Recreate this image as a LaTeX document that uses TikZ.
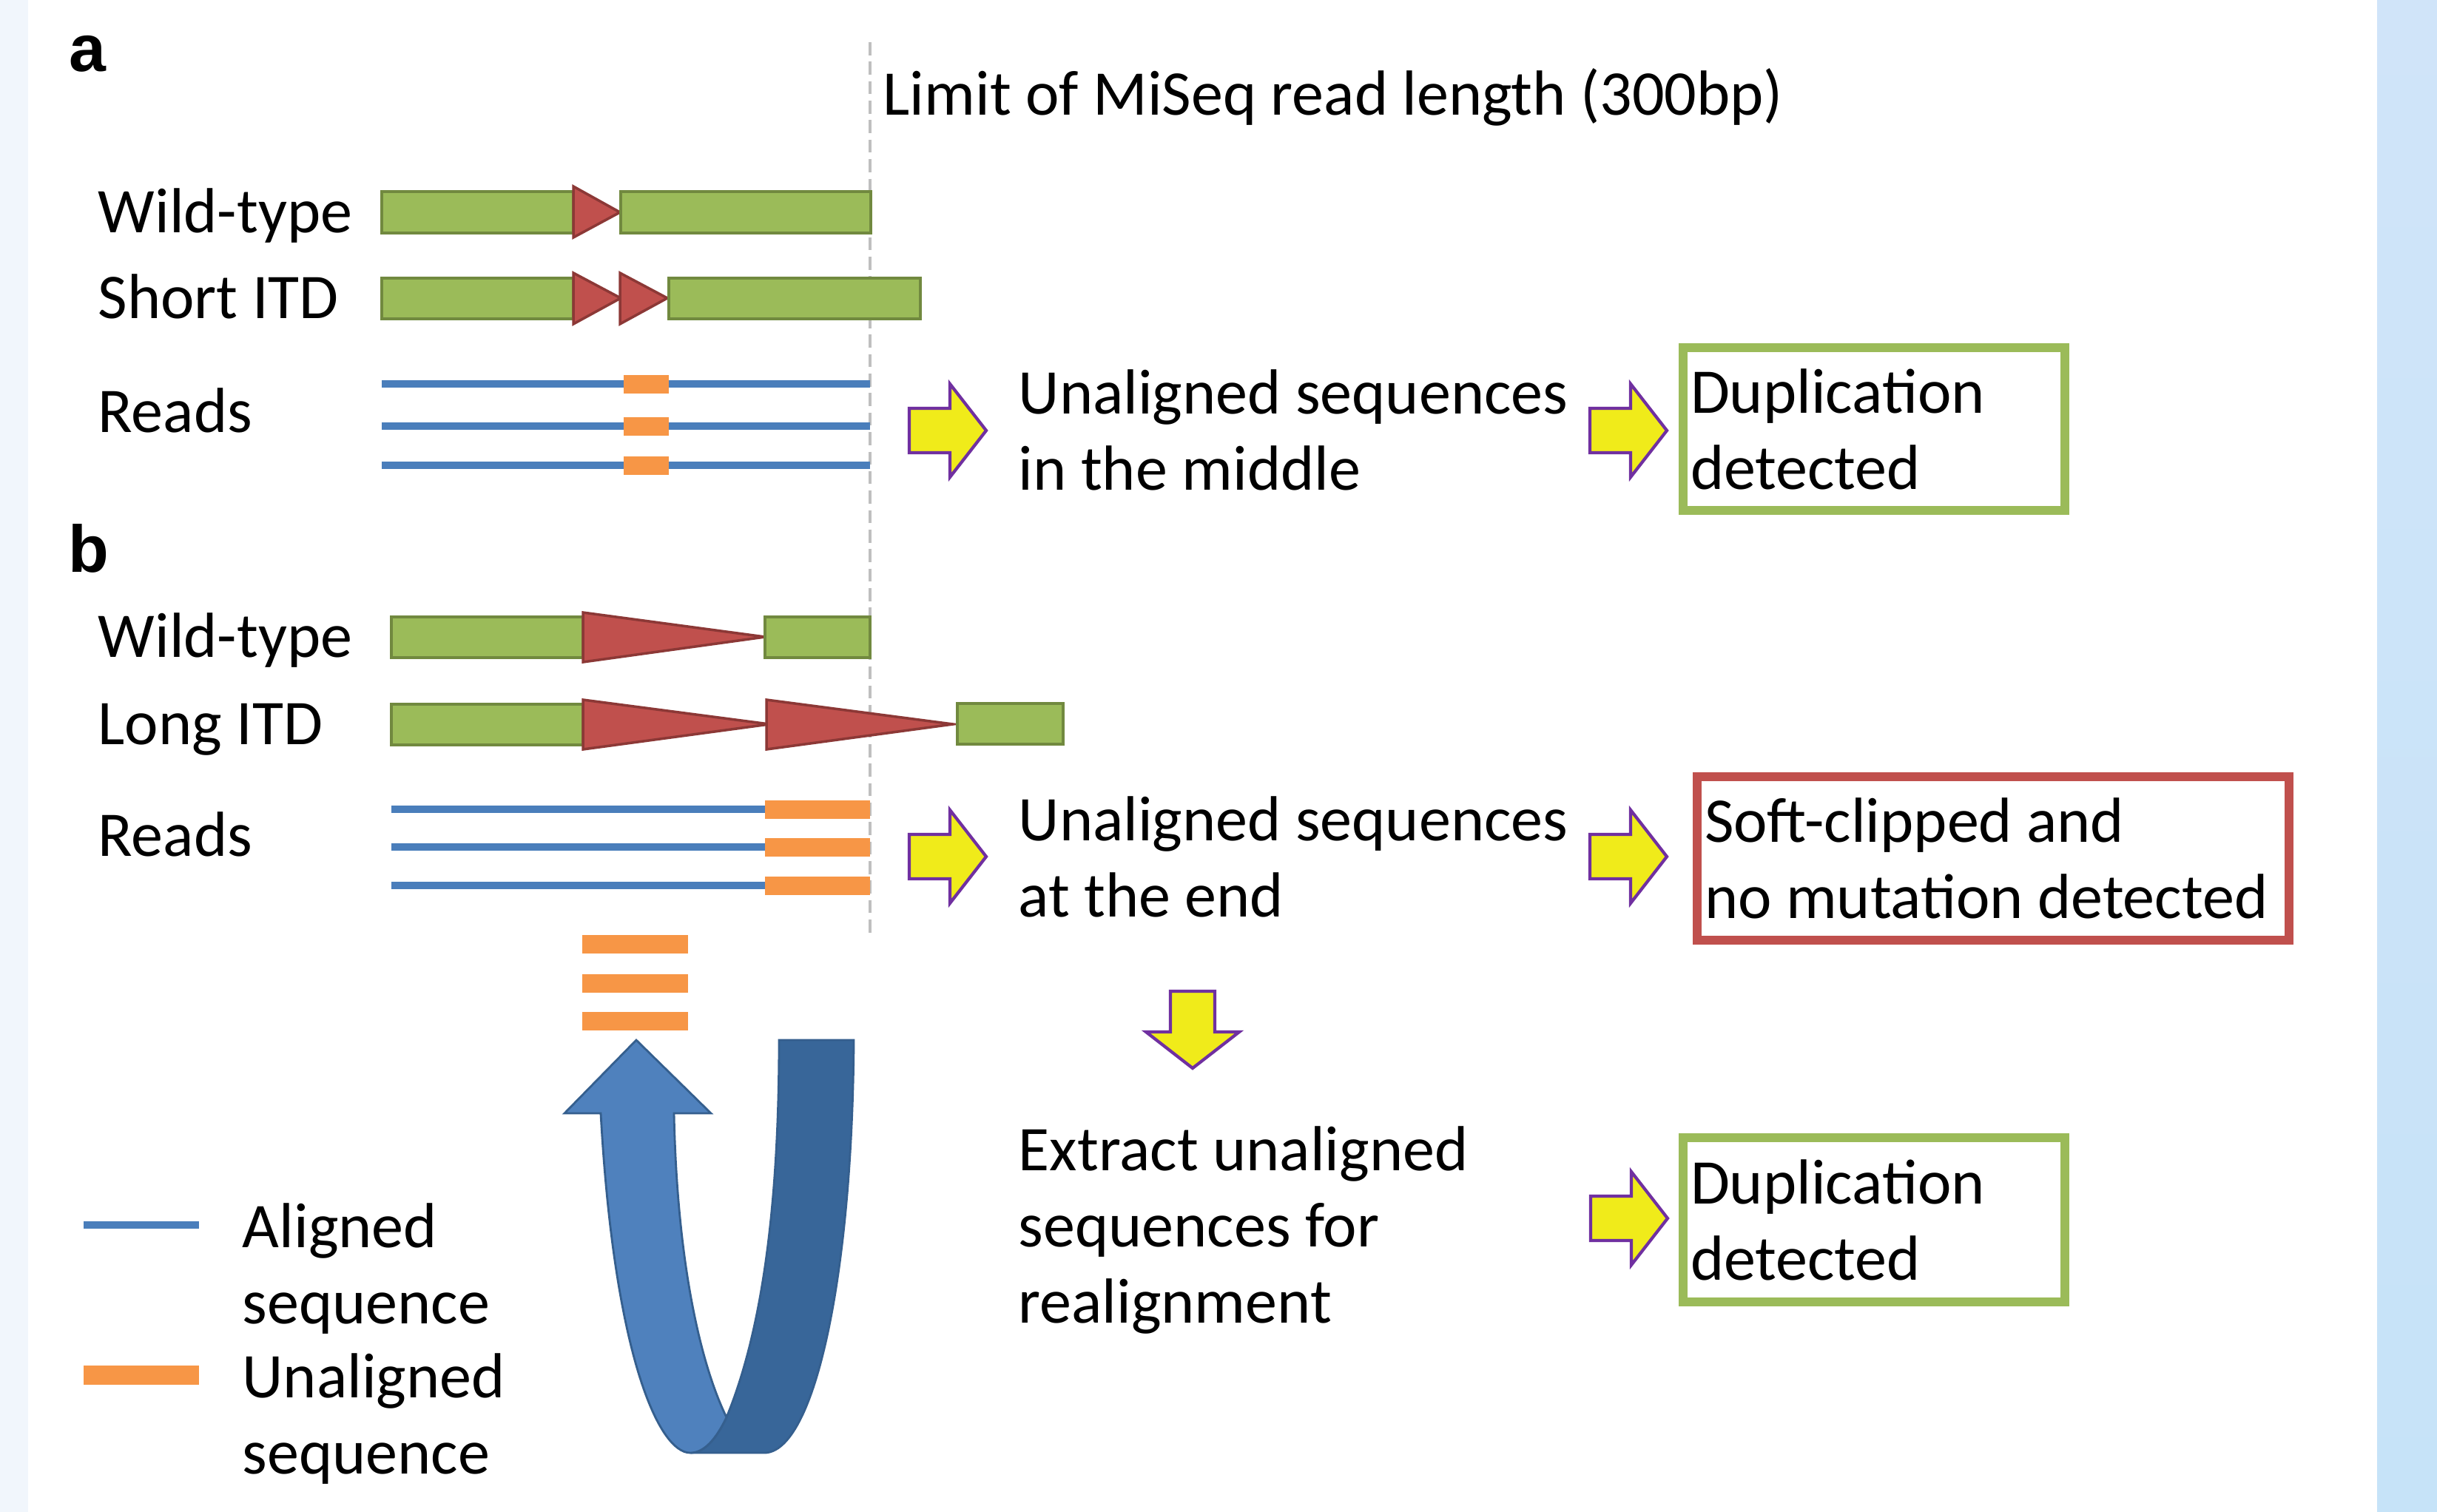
\documentclass[tikz,border=0pt]{standalone}
\usepackage{fontspec}
\setmainfont{Carlito}
\newfontfamily\panelfont{Liberation Sans}
\usetikzlibrary{positioning}
\definecolor{barG}{HTML}{9BBB59}
\definecolor{barGd}{HTML}{71893F}
\definecolor{itdR}{HTML}{C0504D}
\definecolor{itdRd}{HTML}{8C3836}
\definecolor{readB}{HTML}{4A7EBB}
\definecolor{unalO}{HTML}{F79646}
\definecolor{arrY}{HTML}{F0EB1A}
\definecolor{arrP}{HTML}{7030A0}
\definecolor{uturnL}{HTML}{4F81BD}
\definecolor{uturnD}{HTML}{386699}
\definecolor{uturnE}{HTML}{355F8E}
\definecolor{limG}{HTML}{BFBFBF}
\definecolor{bandL}{HTML}{F1F6FC}
\definecolor{bandT}{HTML}{D0E4F9}
\definecolor{bandB}{HTML}{C6E3F8}
\tikzset{
  panel/.style={font=\panelfont\fontsize{25.5}{30}\selectfont\bfseries,inner sep=0pt},
  lbl/.style={anchor=base west,inner sep=0pt},
  txt/.style={anchor=base west,inner sep=0pt,align=left},
  resbox/.style={line width=3.4pt,inner xsep=0.1cm,inner ysep=0pt,align=flush left},
  seg/.style={fill=barG,draw=barGd,line width=1pt},
  dup/.style={fill=itdR,draw=itdRd,line width=1pt},
  read/.style={readB,line width=2.6pt},
  unal/.style={fill=unalO},
  limline/.style={limG,line width=1.1pt,dash pattern=on 5pt off 2.5pt},
  yarr/.style={fill=arrY,draw=arrP,line width=1.2pt},
  yblk/.pic={\draw[yarr] (0,0.30) -- (0.55,0.30) -- (0.55,0.63) -- (1.04,0) -- (0.55,-0.63) -- (0.55,-0.30) -- (0,-0.30) -- cycle;}
}
\begin{document}
\begin{tikzpicture}[x=1cm,y=1cm,line join=miter,font=\fontsize{24.5}{29.3}\selectfont]
\useasboundingbox (0,0) rectangle (32.94,-20.44);
\fill[white] (0,0) rectangle (32.94,-20.44);
\fill[bandL] (0,0) rectangle (0.38,-20.44);
\shade[top color=bandT,bottom color=bandB] (32.13,0) rectangle (32.94,-20.44);

% panel a
\node[panel] (laba) at (1.18,-0.725) {a};
\draw[limline] (11.76,-0.57) -- (11.76,-12.65);
\node[lbl] (lim) at (11.93,-1.55) {Limit of MiSeq read length (300bp)};
\node[lbl] (wta) at (1.32,-3.15) {Wild-type};
\node[lbl] (sitd) at (1.32,-4.30) {Short ITD};
\node[lbl] (rda) at (1.32,-5.84) {Reads};
\draw[seg] (5.16,-2.59) rectangle (7.75,-3.15);
\draw[dup] (7.75,-2.52) -- (8.38,-2.87) -- (7.75,-3.21) -- cycle;
\draw[seg] (8.39,-2.59) rectangle (11.77,-3.15);
\draw[seg] (5.16,-3.76) rectangle (7.75,-4.31);
\foreach \x in {7.75,8.38}
  \draw[dup,shift={(\x,0)}] (0,-3.69) -- (0.64,-4.03) -- (0,-4.38) -- cycle;
\draw[seg] (9.04,-3.76) rectangle (12.44,-4.31);
\foreach \y in {-5.19,-5.76,-6.29}{
  \draw[read] (5.16,\y) -- (11.76,\y);
  \fill[unal] (8.43,\y+0.125) rectangle (9.04,\y-0.125);
}
\node[txt] (mida) at (13.76,-6.62) {Unaligned sequences\\in the middle};
\node[resbox,draw=barG,text width=4.96cm,minimum height=2.2cm] (dupa) at (25.33,-5.80) {Duplication\\detected};

% panel b
\node[panel] (labb) at (1.20,-7.415) {b};
\node[lbl] (wtb) at (1.32,-8.88) {Wild-type};
\node[lbl] (litd) at (1.32,-10.06) {Long ITD};
\node[lbl] (rdb) at (1.32,-11.57) {Reads};
\draw[seg] (5.29,-8.34) rectangle (7.88,-8.89);
\draw[dup] (7.88,-8.28) -- (10.34,-8.61) -- (7.88,-8.95) -- cycle;
\draw[seg] (10.34,-8.34) rectangle (11.76,-8.89);
\draw[seg] (5.29,-9.52) rectangle (7.88,-10.07);
\foreach \x in {7.88,10.36}
  \draw[dup,shift={(\x,0)}] (0,-9.46) -- (2.52,-9.79) -- (0,-10.13) -- cycle;
\draw[seg] (12.94,-9.51) rectangle (14.37,-10.06);
\foreach \y in {-10.94,-11.45,-11.97}{
  \draw[read] (5.29,\y) -- (10.34,\y);
  \fill[unal] (10.34,\y+0.125) rectangle (11.76,\y-0.125);
}
\node[txt] (enda) at (13.76,-12.39) {Unaligned sequences\\at the end};
\node[resbox,draw=itdR,text width=7.80cm,minimum height=2.21cm] (soft) at (26.94,-11.605) {Soft-clipped and\\no mutation detected};

% realignment
\foreach \y in {-12.765,-13.29,-13.80}
  \fill[unal] (7.87,\y+0.125) rectangle (9.30,\y-0.125);
\filldraw[fill=uturnD,draw=uturnE,line width=0.8pt] (10.53,-14.06) -- (11.54,-14.06)
  .. controls (11.52,-17.30) and (11.00,-19.64) .. (10.33,-19.64) -- (9.33,-19.64)
  .. controls (9.52,-19.64) and (9.68,-19.45) .. (9.82,-19.16)
  .. controls (10.30,-18.00) and (10.53,-16.30) .. (10.53,-14.06) -- cycle;
\filldraw[fill=uturnL,draw=uturnE,line width=0.8pt] (8.60,-14.06) -- (9.61,-15.05) -- (9.11,-15.05)
  .. controls (9.15,-17.00) and (9.45,-18.40) .. (9.82,-19.16)
  .. controls (9.68,-19.45) and (9.52,-19.64) .. (9.33,-19.64)
  .. controls (8.90,-19.64) and (8.30,-18.30) .. (8.12,-15.05) -- (7.63,-15.05) -- cycle;
\node[txt] (extr) at (13.76,-17.88) {Extract unaligned\\sequences for\\realignment};
\node[resbox,draw=barG,text width=4.96cm,minimum height=2.22cm] (dupb) at (25.33,-16.49) {Duplication\\detected};

% yellow arrows
\foreach \x/\y in {12.29/-5.82,21.49/-5.82,12.29/-11.58,21.49/-11.58,21.50/-16.47}
  \pic at (\x,\y) {yblk};
\pic[rotate=-90] at (16.12,-13.40) {yblk};

% legend
\draw[read,line width=2.8pt] (1.13,-16.56) -- (2.69,-16.56);
\fill[unal] (1.13,-18.46) rectangle (2.69,-18.72);
\node[txt] (lgal) at (3.27,-17.89) {Aligned\\sequence};
\node[txt] (lgun) at (3.27,-19.92) {Unaligned\\sequence};
\end{tikzpicture}
\end{document}
